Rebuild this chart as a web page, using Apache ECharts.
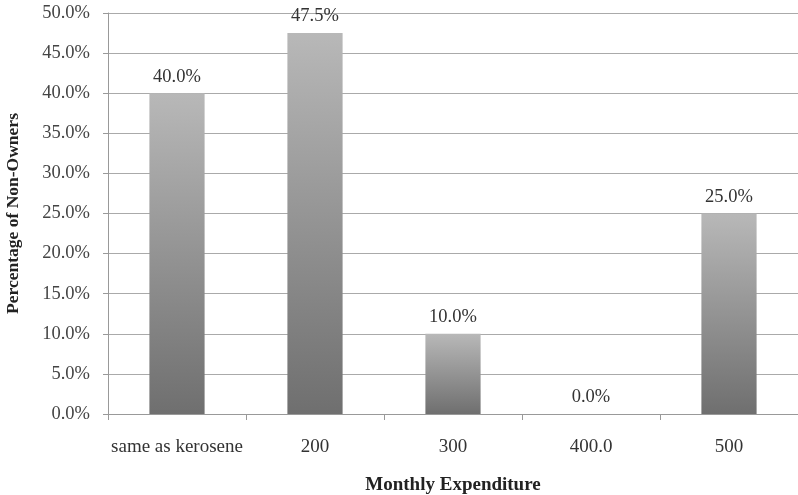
<!DOCTYPE html>
<html>
<head>
<meta charset="utf-8">
<script src="https://cdn.jsdelivr.net/npm/echarts@6/dist/echarts.min.js"></script>
<style>
  html, body { margin: 0; padding: 0; background: #fff; }
  #chart { width: 798px; height: 495px; }
</style>
</head>
<body>
<div id="chart"></div>
<script>
// categories and values
const categories = ['same as kerosene', '200', '300', '400.0', '500'];
const shares = [40.0, 47.5, 10.0, 0.0, 25.0];
const yTicks = [0, 5, 10, 15, 20, 25, 30, 35, 40, 45, 50];

const chart = echarts.init(document.getElementById('chart'));
const serif = '"Liberation Serif", "DejaVu Serif", serif';

chart.setOption({
  animation: false,
  grid: { left: 108, right: 0, top: 13, bottom: 81, outerBoundsMode: 'none' },
  xAxis: {
    type: 'category',
    data: categories,
    name: 'Monthly Expenditure',
    nameLocation: 'middle',
    nameGap: 62,
    nameTextStyle: { fontFamily: serif, fontSize: 19, fontWeight: 'bold', color: '#222' },
    axisLine: { lineStyle: { color: '#999', width: 1 } },
    axisTick: { show: true, length: 6, lineStyle: { color: '#999' } },
    axisLabel: { interval: 0, fontFamily: serif, fontSize: 19, color: '#333', margin: 24 }
  },
  yAxis: {
    type: 'value',
    min: yTicks[0],
    max: yTicks[yTicks.length - 1],
    interval: 5,
    name: 'Percentage of Non-Owners',
    nameLocation: 'middle',
    nameGap: 86,
    nameTextStyle: { fontFamily: serif, fontSize: 17.5, fontWeight: 'bold', color: '#222' },
    axisLine: { show: true, lineStyle: { color: '#999', width: 1 } },
    axisTick: { show: true, length: 5, lineStyle: { color: '#999' } },
    splitLine: { lineStyle: { color: '#aaa', width: 1 } },
    axisLabel: {
      fontFamily: serif, fontSize: 18.5, color: '#444', margin: 18,
      formatter: v => v.toFixed(1) + '%'
    }
  },
  series: [{
    type: 'bar',
    data: shares,
    barWidth: '40%',
    itemStyle: {
      color: new echarts.graphic.LinearGradient(0, 0, 0, 1, [
        { offset: 0, color: '#b8b8b8' },
        { offset: 1, color: '#6f6f6f' }
      ])
    },
    label: {
      show: true,
      position: 'top',
      distance: 7,
      fontFamily: serif,
      fontSize: 18.5,
      color: '#333',
      formatter: p => p.value.toFixed(1) + '%'
    }
  }]
});
</script>
</body>
</html>
